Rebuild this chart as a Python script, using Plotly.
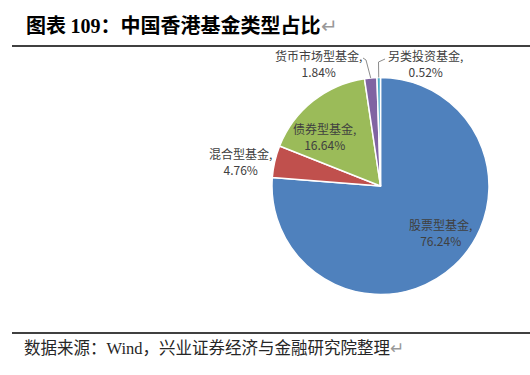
import math
import plotly.graph_objects as go

labels = ["股票型基金", "混合型基金", "债券型基金", "货币市场型基金", "另类投资基金"]
values = [76.24, 4.76, 16.64, 1.84, 0.52]
colors = ["#4F81BD", "#C0504D", "#9BBB59", "#8064A2", "#4BACC6"]

W, H = 530, 375
CX, CY, R = 380.5, 186.0, 108.5          # pie centre / radius in pixels (layout)
# label block centres in pixels (layout only)
label_pos = [(440, 232), (240, 161), (324, 137), (318, 64), (425, 64)]


def px(x):
    return x / W


def py(y):
    return 1 - y / H


fig = go.Figure(go.Pie(
    labels=labels,
    values=values,
    sort=False,
    direction="clockwise",
    rotation=0,
    marker=dict(colors=colors, line=dict(color="white", width=1.5)),
    textinfo="none",
    showlegend=False,
    hoverinfo="label+value",
    domain=dict(x=[px(CX - R), px(CX + R)], y=[py(CY + R), py(CY - R)]),
))

annotations = []
for lab, val, (lx, ly) in zip(labels, values, label_pos):
    annotations.append(dict(
        text=f"{lab},<br>{val:.2f}%", xref="paper", yref="paper",
        x=px(lx), y=py(ly), xanchor="center", yanchor="middle", showarrow=False,
        font=dict(family="Noto Sans CJK SC", size=12, color="#404040"),
    ))

# slice mid-angle points on the rim, from the data
total = sum(values)
cum = 0
rim = []
for v in values:
    mid = (cum + v / 2) / total * 2 * math.pi
    rim.append((CX + R * math.sin(mid), CY - R * math.cos(mid)))
    cum += v

tx3, ty3 = rim[3]
tx4, ty4 = rim[4]
shapes = [
    dict(type="line", xref="paper", yref="paper", x0=px(12), x1=1, y0=py(46), y1=py(46),
         line=dict(color="black", width=1.3)),
    dict(type="line", xref="paper", yref="paper", x0=px(12), x1=1, y0=py(333), y1=py(333),
         line=dict(color="black", width=1.3)),
    dict(type="path", xref="paper", yref="paper",
         path=f"M {px(363)},{py(58)} L {px(366)},{py(60)} L {px(tx3)},{py(ty3)}",
         line=dict(color="#8c8c8c", width=1)),
    dict(type="path", xref="paper", yref="paper",
         path=f"M {px(tx4)},{py(ty4)} L {px(378.5)},{py(62)} L {px(385)},{py(59)}",
         line=dict(color="#8c8c8c", width=1)),
]

annotations += [
    dict(text="图表 <span style='font-family:Liberation Serif'>109</span>：中国香港基金类型占比"
              "<span style='color:#999999;font-weight:normal'>↵</span>",
         xref="paper", yref="paper", x=px(24), y=py(24), xanchor="left", yanchor="middle",
         showarrow=False,
         font=dict(family="Noto Sans CJK SC", size=20, color="black", weight="bold")),
    dict(text="数据来源：<span style='font-family:Liberation Serif'>Wind</span>，兴业证券经济与金融研究院整理"
              "<span style='color:#999999'>↵</span>",
         xref="paper", yref="paper", x=px(22), y=py(347), xanchor="left", yanchor="middle",
         showarrow=False, font=dict(family="Noto Sans CJK SC", size=16.5, color="#262626")),
]

fig.update_layout(
    width=W, height=H,
    margin=dict(l=0, r=0, t=0, b=0),
    paper_bgcolor="white",
    plot_bgcolor="white",
    shapes=shapes,
    annotations=annotations,
)

fig.write_html("out.html", config={"displayModeBar": False},
               post_script="document.body.style.margin='0';")
